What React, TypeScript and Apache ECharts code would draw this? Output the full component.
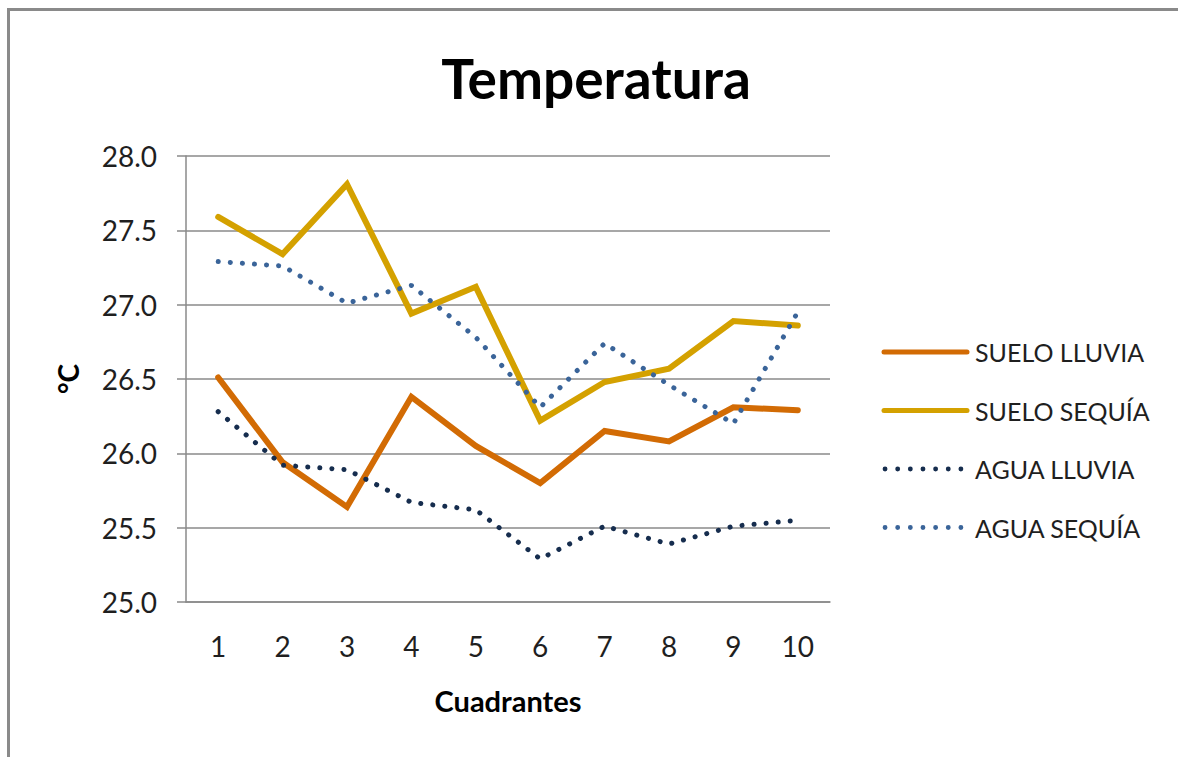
import React, { useEffect, useRef } from "react";
import * as echarts from "echarts";

const categories = ["1", "2", "3", "4", "5", "6", "7", "8", "9", "10"];
const sueloLluvia = [26.51, 25.94, 25.64, 26.38, 26.05, 25.8, 26.15, 26.08, 26.31, 26.29];
const sueloSequia = [27.59, 27.34, 27.81, 26.94, 27.12, 26.22, 26.48, 26.57, 26.89, 26.86];
const aguaLluvia = [26.28, 25.92, 25.89, 25.67, 25.62, 25.29, 25.51, 25.39, 25.51, 25.55];
const aguaSequia = [27.29, 27.26, 27.01, 27.13, 26.78, 26.31, 26.74, 26.46, 26.2, 26.95];
const seriesNames = ["SUELO LLUVIA", "SUELO SEQUÍA", "AGUA LLUVIA", "AGUA SEQUÍA"];

const FONT = "Lato";
const GRID = "#8a8a8a";
const TXT = "#1f1f1f";

// legend icons drawn in an 88 x 5 box
const solidIcon = "path://M2.5 0 L85.5 0 A2.5 2.5 0 0 1 85.5 5 L2.5 5 A2.5 2.5 0 0 1 2.5 0 Z";
function dotsIcon(): string {
  let d = "path://M0 2.5 L0 2.5001 ";
  for (let i = 0; i < 7; i++) {
    const cx = 4 + i * 12.5;
    d += `M${cx - 2.4} 2.5 A2.4 2.4 0 1 0 ${cx + 2.4} 2.5 A2.4 2.4 0 1 0 ${cx - 2.4} 2.5 Z `;
  }
  d += "M88 2.5 L88 2.5001";
  return d;
}

export default function App() {
  const ref = useRef<HTMLDivElement>(null);
  useEffect(() => {
    if (!ref.current) return;
    const chart = echarts.init(ref.current, null, { renderer: "svg" });
    const dotted = { type: [0.1, 12] as any, cap: "round" as const, width: 5 };
    const dots = dotsIcon();
    chart.setOption({
      animation: false,
      backgroundColor: "#ffffff",
      title: {
        text: "Temperatura",
        left: 591,
        top: 45,
        textAlign: "center",
        textStyle: { fontFamily: FONT, fontWeight: "bold", fontSize: 55, color: "#000" },
      },
      graphic: [
        {
          type: "rect",
          shape: { x: 8.5, y: 9.5, width: 1250, height: 850 },
          style: { fill: "none", stroke: "#8a8a8a", lineWidth: 3 },
          silent: true,
        },
      ],
      legend: {
        orient: "vertical",
        left: 881,
        top: 338,
        itemWidth: 89,
        itemHeight: 5,
        itemGap: 30.5,
        padding: 0,
        textStyle: { fontFamily: FONT, fontSize: 25, color: TXT, lineHeight: 28 },
        data: [
          { name: seriesNames[0], icon: solidIcon },
          { name: seriesNames[1], icon: solidIcon },
          { name: seriesNames[2], icon: dots },
          { name: seriesNames[3], icon: dots },
        ],
      },
      grid: { left: 186, right: 348, top: 156, bottom: 155, containLabel: false },
      xAxis: {
        type: "category",
        data: categories,
        boundaryGap: true,
        name: "Cuadrantes",
        nameLocation: "middle",
        nameGap: 84,
        nameTextStyle: { fontFamily: FONT, fontWeight: "bold", fontSize: 29, color: "#000" },
        axisLine: { lineStyle: { color: GRID, width: 1.5 } },
        axisTick: { show: false },
        axisLabel: { fontFamily: FONT, fontSize: 28, color: TXT, margin: 30 },
      },
      yAxis: {
        type: "value",
        min: 25,
        max: 28,
        interval: 0.5,
        name: "°C",
        nameLocation: "middle",
        nameGap: 104,
        nameRotate: 90,
        nameTextStyle: { fontFamily: FONT, fontWeight: "bold", fontSize: 28, color: "#000" },
        axisLine: { show: true, lineStyle: { color: GRID, width: 1.5 } },
        axisTick: { show: true, length: 9, lineStyle: { color: GRID, width: 1.5 } },
        splitLine: { show: true, lineStyle: { color: GRID, width: 1.5 } },
        axisLabel: {
          fontFamily: FONT,
          fontSize: 28,
          color: TXT,
          margin: 29,
          formatter: (v: number) => v.toFixed(1),
        },
      },
      series: [
        {
          name: seriesNames[0],
          type: "line",
          data: sueloLluvia,
          symbol: "none",
          color: "#d26b04",
          lineStyle: { width: 6, color: "#d26b04", cap: "round", join: "miter" },
        },
        {
          name: seriesNames[1],
          type: "line",
          data: sueloSequia,
          symbol: "none",
          color: "#d4a100",
          lineStyle: { width: 6, color: "#d4a100", cap: "round", join: "miter" },
        },
        {
          name: seriesNames[2],
          type: "line",
          data: aguaLluvia,
          symbol: "none",
          color: "#162d4e",
          lineStyle: { ...dotted, color: "#162d4e" },
        },
        {
          name: seriesNames[3],
          type: "line",
          data: aguaSequia,
          symbol: "none",
          color: "#3a6499",
          lineStyle: { ...dotted, color: "#3a6499" },
        },
      ],
    });
    return () => chart.dispose();
  }, []);
  return (
    <div
      ref={ref}
      style={{ position: "fixed", left: 0, top: 0, width: 1178, height: 757, background: "#fff" }}
    />
  );
}
